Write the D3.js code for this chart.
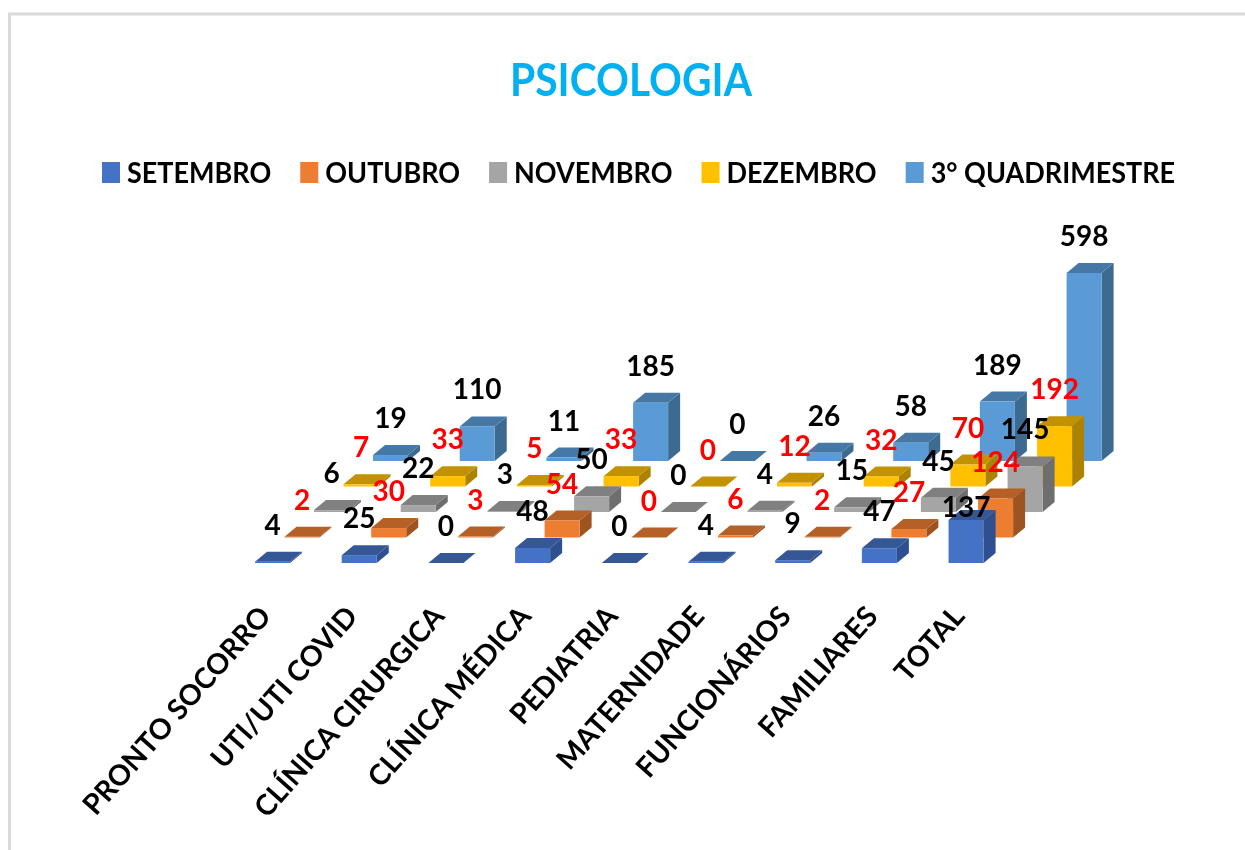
<!DOCTYPE html>
<html>
<head>
<meta charset="utf-8">
<script src="https://cdn.jsdelivr.net/npm/d3@7"></script>
<style>
  html, body { margin: 0; padding: 0; background: #fff; }
  svg { display: block; filter: blur(0.5px); }
  text { font-family: Lato, "Open Sans", sans-serif; }
</style>
</head>
<body>
<script>
const categories = ['PRONTO SOCORRO', 'UTI/UTI COVID', 'CLÍNICA CIRURGICA', 'CLÍNICA MÉDICA', 'PEDIATRIA', 'MATERNIDADE', 'FUNCIONÁRIOS', 'FAMILIARES', 'TOTAL']
const seriesNames = ['SETEMBRO', 'OUTUBRO', 'NOVEMBRO', 'DEZEMBRO', '3° QUADRIMESTRE']

const setembro = [4, 25, 0, 48, 0, 4, 9, 47, 137]
const outubro = [2, 30, 3, 54, 0, 6, 2, 27, 124]
const novembro = [6, 22, 3, 50, 0, 4, 15, 45, 145]
const dezembro = [7, 33, 5, 33, 0, 12, 32, 70, 192]
const quadrimestre = [19, 110, 11, 185, 0, 26, 58, 189, 598]
const seriesValues = [setembro, outubro, novembro, dezembro, quadrimestre]

// front / top / side faces per series
const faces = [
    ['#4472C4', '#365796', '#2F5090'],
    ['#ED7D31', '#B46026', '#9E5420'],
    ['#A5A5A5', '#808080', '#6E6E6E'],
    ['#FFC000', '#C29200', '#AD8200'],
    ['#5B9BD5', '#4678A6', '#3C6A90']
]
const labelColors = ['#000', '#f00', '#000', '#f00', '#000']

const width = 1245
const height = 850
const depthDx = 12
const depthDy = 10

const svg = d3.select('body').append('svg')
        .attr('width', width)
        .attr('height', height)

// frame
svg.append('path')
        .attr('d', 'M9.5,850V14H1245')
        .attr('fill', 'none')
        .attr('stroke', '#d9d9d9')
        .attr('stroke-width', 3)

// Lato runs wider than the original font, squeeze the title to its width
svg.append('text')
        .attr('x', 631)
        .attr('y', 96)
        .attr('text-anchor', 'middle')
        .attr('font-size', 46)
        .attr('font-weight', 700)
        .attr('fill', '#00B0F0')
        .attr('textLength', 242)
        .attr('lengthAdjust', 'spacingAndGlyphs')
        .text('PSICOLOGIA')

// scales
const xScale = d3.scaleBand()
        .domain(categories)
        .range([255, 983.6])
        .paddingInner(0.596)
        .paddingOuter(0)

const rowX = d3.scalePoint().domain(seriesNames).range([0, 118])
const rowY = d3.scalePoint().domain(seriesNames).range([563, 461])
const barHeight = d3.scaleLinear().domain([0, 598]).range([0, 188])

const points = (arr) => arr.map(p => p.join(',')).join(' ')

const rows = svg.append('g').attr('id', 'bars')

// back row first so the front rows sit on top
seriesNames.slice().reverse().forEach((name) => {
    const s = seriesNames.indexOf(name)
    const g = rows.append('g').attr('class', 'series')
    const bars = g.selectAll('g')
            .data(seriesValues[s])
            .join('g')

    const x0 = (i) => xScale(categories[i]) + rowX(name)
    const x1 = (i) => x0(i) + xScale.bandwidth()
    const base = rowY(name)
    const top = (d) => base - barHeight(d)

    bars.append('polygon')
            .attr('fill', faces[s][2])
            .attr('points', (d, i) => points([[x1(i), base], [x1(i) + depthDx, base - depthDy], [x1(i) + depthDx, top(d) - depthDy], [x1(i), top(d)]]))
    bars.append('polygon')
            .attr('fill', faces[s][1])
            .attr('points', (d, i) => points([[x0(i), top(d)], [x1(i), top(d)], [x1(i) + depthDx, top(d) - depthDy], [x0(i) + depthDx, top(d) - depthDy]]))
    bars.append('rect')
            .attr('fill', faces[s][0])
            .attr('x', (d, i) => x0(i))
            .attr('y', d => top(d))
            .attr('width', xScale.bandwidth())
            .attr('height', d => barHeight(d))
})

// value labels go above all the bars
seriesNames.forEach((name, s) => {
    svg.append('g').selectAll('text')
            .data(seriesValues[s])
            .join('text')
            .attr('x', (d, i) => xScale(categories[i]) + rowX(name) + xScale.bandwidth() / 2)
            .attr('y', (d) => {
                // the total of the front row was dragged down onto its bar
                const gap = (s === 0 && d === 137) ? 13 : 37
                return rowY(name) - barHeight(d) - gap
            })
            .attr('dy', '0.36em')
            .attr('text-anchor', 'middle')
            .attr('font-size', 28)
            .attr('font-weight', 700)
            .attr('fill', labelColors[s])
            .text(d => d)
})

// category axis
const xAxis = d3.axisBottom(xScale).tickSize(0)

svg.append('g')
        .attr('id', 'x-axis')
        .attr('transform', 'translate(-15, 604)')
        .call(xAxis)
        .call(g => g.select('.domain').remove())
        .selectAll('text')
        .attr('x', 0)
        .attr('y', 0)
        .attr('dy', '0.7em')
        .attr('text-anchor', 'end')
        .attr('transform', 'rotate(-48.5)')
        .attr('font-family', 'Lato')
        .attr('font-size', 28.5)
        .attr('font-weight', 700)
        .attr('fill', '#000')

// legend
const legend = svg.append('g').attr('id', 'legend')
let legendX = 102
seriesNames.forEach((name, s) => {
    legend.append('rect')
            .attr('x', legendX)
            .attr('y', 162)
            .attr('width', 18)
            .attr('height', 21)
            .attr('fill', faces[s][0])
    const label = legend.append('text')
            .attr('x', legendX + 25)
            .attr('y', 183)
            .attr('font-size', 29)
            .attr('font-weight', 700)
            .attr('fill', '#000')
            .text(name)
    // taller letters at the old width, same squeeze as the title
    const squeezed = label.node().getComputedTextLength() * 27 / 29
    label.attr('textLength', squeezed).attr('lengthAdjust', 'spacingAndGlyphs')
    legendX += 25 + squeezed + 29
})
</script>
</body>
</html>
